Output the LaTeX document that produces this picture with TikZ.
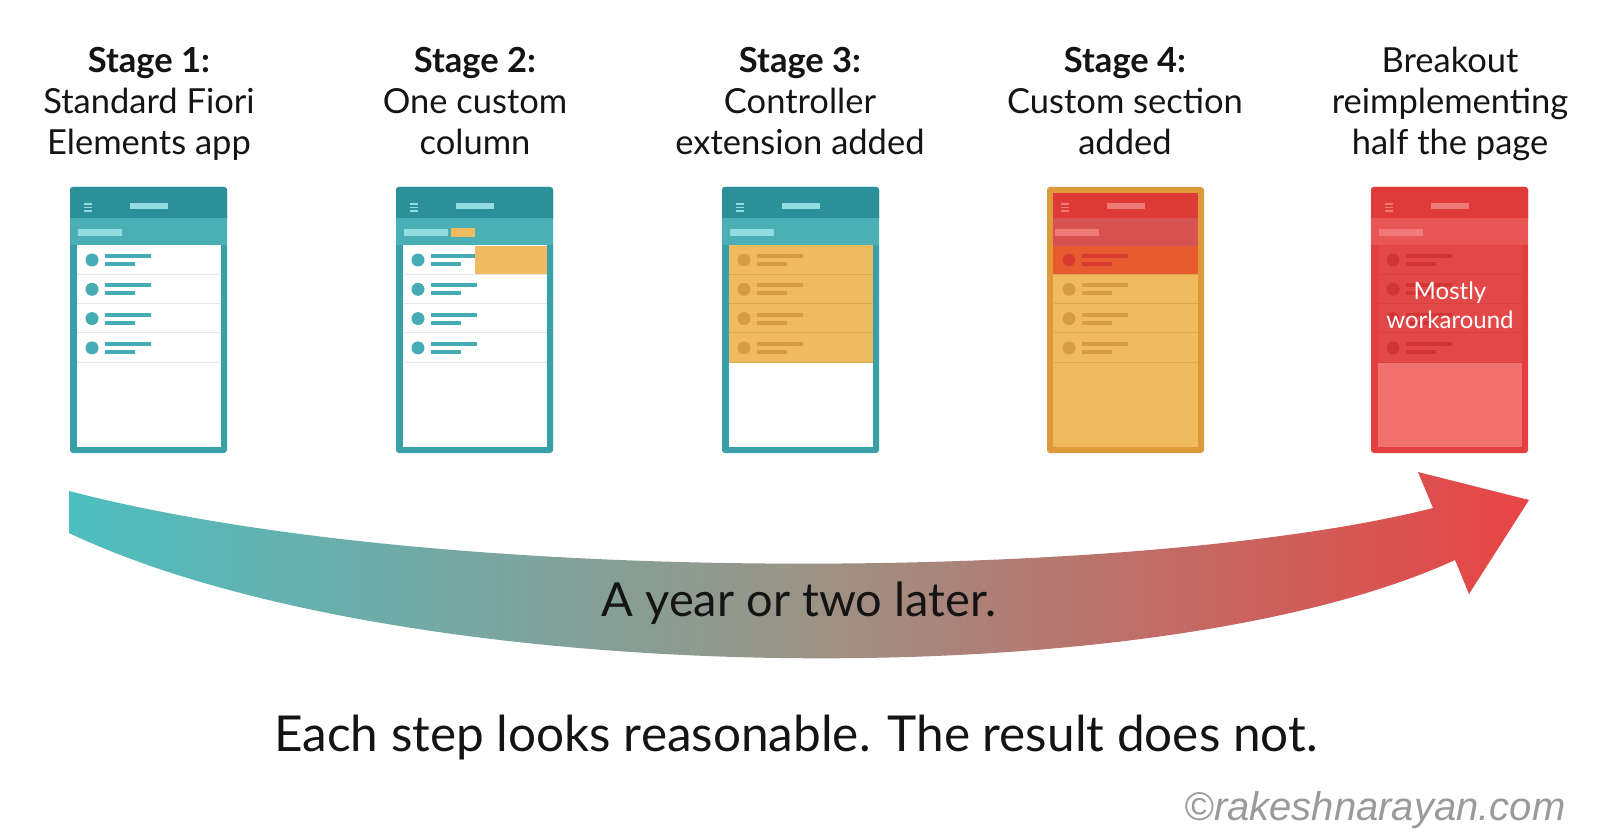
\documentclass[tikz,border=0pt]{standalone}
\usepackage{fontspec}
\setmainfont{Lato}
\newfontfamily\wmfont{Liberation Sans}
\definecolor{tframe}{HTML}{3AA0A8}
\definecolor{thead}{HTML}{2B9098}
\definecolor{tsub}{HTML}{4AB0B5}
\definecolor{tpill}{HTML}{93DCE0}
\definecolor{tdot}{HTML}{45ABB5}
\definecolor{sepgray}{HTML}{E4EAEA}
\definecolor{ofill}{HTML}{F0BB5E}
\definecolor{odot}{HTML}{D59B45}
\definecolor{osep}{HTML}{DDA850}
\definecolor{oframe}{HTML}{DD9A3A}
\definecolor{rhead}{HTML}{DE3B38}
\definecolor{rsub}{HTML}{D65352}
\definecolor{rpill}{HTML}{F07A78}
\definecolor{rrow}{HTML}{E85A30}
\definecolor{rrowdot}{HTML}{D93A30}
\definecolor{fframe}{HTML}{E23F3F}
\definecolor{fhead}{HTML}{E03B3B}
\definecolor{fsub}{HTML}{E85656}
\definecolor{frow}{HTML}{E34848}
\definecolor{fdot}{HTML}{D33535}
\definecolor{fsep}{HTML}{D94040}
\definecolor{flow}{HTML}{EF706C}
\definecolor{arrteal}{HTML}{4DBEC0}
\definecolor{arrmid}{HTML}{9A9488}
\definecolor{arrred}{HTML}{E84444}
\definecolor{wmgray}{HTML}{9A9A9A}
\newcommand\phonerows[3]{%
  \foreach \i in {0,1,2,3}{
    \fill[#2] (#1+22,260+29.3*\i) circle[radius=6.5pt];
    \fill[#2] (#1+35,254+29.3*\i) rectangle (#1+81,258+29.3*\i);
    \fill[#2] (#1+35,262+29.3*\i) rectangle (#1+65,266+29.3*\i);
    \draw[#3, line width=1pt] (#1+7,274.3+29.3*\i) -- (#1+151,274.3+29.3*\i);
  }}
\newcommand\phonetop[5]{%
  \fill[#2, rounded corners=3pt] (#1,187) rectangle (#1+157,453);
  \fill[#3, rounded corners=3pt] (#1,187) rectangle (#1+157,222);
  \fill[#4] (#1,218) rectangle (#1+157,245);
  \foreach \k in {204,207.5,211}{\draw[#5, line width=1.5pt] (#1+14,\k) -- (#1+22,\k);}
  \fill[#5] (#1+60,203) rectangle (#1+98,209);
  \fill[#5] (#1+8,229) rectangle (#1+52,236);
}
\tikzset{
  stagetitle/.style={align=center, font=\fontsize{34.5}{41}\selectfont, text=black!92},
  bigtext/.style={font=\fontsize{47}{54}\selectfont, text=black!92}
}
\begin{document}
\begin{tikzpicture}[x=1pt, y=-1pt]
\useasboundingbox (0,0) rectangle (1600,834);
\fill[white] (0,0) rectangle (1600,834);

% titles
\node[stagetitle] (t1) at (149,105) {\strut\textbf{Stage 1:}\\Standard Fiori\\Elements app\strut};
\node[stagetitle] (t2) at (475,105) {\strut\textbf{Stage 2:}\\One custom\\column\strut};
\node[stagetitle] (t3) at (800,105) {\strut\textbf{Stage 3:}\\Controller\\extension added\strut};
\node[stagetitle] (t4) at (1125,105) {\strut\textbf{Stage 4:}\\Custom section\\added\strut};
\node[stagetitle] (t5) at (1450,105) {\strut Breakout\\reimplementing\\half the page\strut};

% phone 1
\phonetop{70}{tframe}{thead}{tsub}{tpill}
\fill[white] (77,245) rectangle (221,447);
\phonerows{70}{tdot}{sepgray}

% phone 2
\phonetop{396}{tframe}{thead}{tsub}{tpill}
\fill[white] (403,245) rectangle (547,447);
\fill[ofill] (451,228) rectangle (475,237);
\phonerows{396}{tdot}{sepgray}
\fill[ofill] (475,246) rectangle (547,274);

% phone 3
\phonetop{722}{tframe}{thead}{tsub}{tpill}
\fill[white] (729,245) rectangle (873,447);
\fill[ofill] (729,245) rectangle (873,363);
\phonerows{722}{odot}{osep}

% phone 4
\fill[oframe, rounded corners=3pt] (1047,187) rectangle (1204,453);
\fill[ofill] (1053,193) rectangle (1198,447);
\fill[rhead] (1053,193) rectangle (1198,218);
\fill[rsub] (1053,218) rectangle (1198,246);
\fill[rrow] (1053,246) rectangle (1198,274);
\foreach \k in {204,207.5,211}{\draw[rpill, line width=1.5pt] (1061,\k) -- (1069,\k);}
\fill[rpill] (1107,203) rectangle (1145,209);
\fill[rpill] (1055,229) rectangle (1099,236);
\phonerows{1047}{odot}{osep}
\fill[rrowdot] (1069,260) circle[radius=6.5pt];
\fill[rrowdot] (1082,254) rectangle (1128,258);
\fill[rrowdot] (1082,262) rectangle (1112,266);

% phone 5
\phonetop{1371}{fframe}{fhead}{fsub}{rpill}
\fill[frow] (1378,245) rectangle (1522,363);
\fill[flow] (1378,363) rectangle (1522,447);
\phonerows{1371}{fdot}{fsep}
\node[text=white, align=center, font=\fontsize{24}{29}\selectfont] (mw) at (1450,305) {Mostly\\workaround};

% arrow
\shade[left color=arrteal, right color=arrred, middle color=arrmid]
  (69,491) .. controls (450,590) and (1150,580) .. (1433,508)
  -- (1418,472) -- (1529,500) -- (1469,594) -- (1455,560)
  .. controls (1150,700) and (400,690) .. (69,533) -- cycle;
\node[bigtext] (later) at (799,603) {A year or two later.};

\node[bigtext, font=\fontsize{49.5}{56}\selectfont] (summary) at (796,738) {Each step looks reasonable. The result does not.};
\node[text=wmgray, font=\wmfont\itshape\fontsize{40}{44}\selectfont] (wm) at (1375,810) {©rakeshnarayan.com};
\end{tikzpicture}
\end{document}
